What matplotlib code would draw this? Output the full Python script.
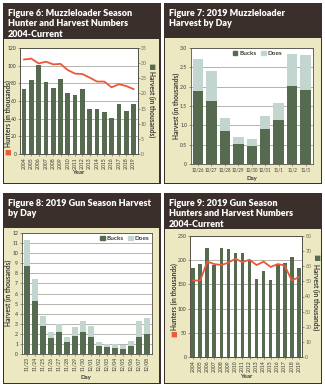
import matplotlib
matplotlib.use("Agg")
import matplotlib.pyplot as plt
from matplotlib.patches import Rectangle, Patch

# ---------------- data ----------------
ml_years = [str(y) for y in range(2004, 2020)]
ml_hunters = [107, 108, 102.5, 104.5, 101.5, 102, 95, 91, 90.5, 86.5, 82, 82, 75.5, 79, 77, 73.5]
ml_harvest = [21.4, 24.3, 29.5, 23.9, 21.7, 24.7, 20.0, 19.6, 21.6, 14.9, 14.9, 14.0, 12.0, 16.5, 14.2, 16.4]

ml_days = ["10/26", "10/27", "10/28", "10/29", "10/30", "10/31", "11/1", "11/2", "11/3"]
ml_bucks = [1.90, 1.62, 0.85, 0.52, 0.47, 0.91, 1.15, 2.03, 1.91]
ml_does = [0.82, 0.78, 0.34, 0.19, 0.18, 0.32, 0.43, 0.82, 0.92]

gun_days = ["11/23", "11/24", "11/25", "11/26", "11/27", "11/28", "11/29", "11/30",
            "12/01", "12/02", "12/03", "12/04", "12/05", "12/06", "12/07", "12/08"]
gun_bucks = [8.7, 5.25, 2.75, 1.6, 2.18, 1.15, 1.75, 2.15, 1.68, 0.78, 0.65, 0.6, 0.46, 0.75, 1.72, 1.97]
gun_does = [2.57, 2.22, 1.0, 0.62, 0.76, 0.57, 0.89, 1.16, 1.06, 0.41, 0.34, 0.39, 0.4, 0.51, 1.59, 1.6]

gun_years = [str(y) for y in range(2004, 2020)]
gun_hunters = [158, 158, 197, 192, 190, 195, 203, 196, 201, 190, 197, 186, 192, 189, 158, 165]
gun_harvest = [58.8, 61.7, 72.0, 60.6, 72.0, 71.6, 68.7, 68.5, 63.2, 51.3, 56.6, 50.8, 61.0, 62.3, 65.9, 58.8]

# ---------------- style ----------------
W, H = 325, 387
HEAD = "#3b2f2b"
BEIGE = "#ebe8c2"
GREEN = "#566a50"
DOE = "#c3d5cf"
RED = "#e85a3a"
GRID = "#a8a8a0"
TXT = "#3a3a36"
TICK = 3.7
LAB = 4.3
SIDE = 4.8

plt.rcParams["font.family"] = ["Lato", "DejaVu Sans"]

fig = plt.figure(figsize=(W / 100, H / 100), dpi=100)
fig.patch.set_facecolor("white")


def rect(x0, y0, x1, y1):
    return [x0 / W, 1 - y1 / H, (x1 - x0) / W, (y1 - y0) / H]


def fx(x):
    return x / W


def fy(y):
    return 1 - y / H


def panel(x0, x1, y0, yh, y1, lines):
    fig.add_artist(Rectangle((fx(x0), fy(y1)), (x1 - x0) / W, (y1 - y0) / H,
                             transform=fig.transFigure, facecolor=HEAD, edgecolor="none", zorder=0))
    fig.add_artist(Rectangle((fx(x0 + 1.2), fy(y1 - 1.2)), (x1 - x0 - 2.4) / W, (y1 - yh - 1.2) / H,
                             transform=fig.transFigure, facecolor=BEIGE, edgecolor="none", zorder=0))
    for i, s in enumerate(lines):
        fig.text(fx(x0 + 5), fy(y0 + 10.0 + 10.6 * i), s, color="white", fontsize=6.5,
                 fontweight="heavy", va="center", ha="left")


def style_axis(ax):
    ax.set_facecolor("white")
    for sp in ax.spines.values():
        sp.set_color("#55524a")
        sp.set_linewidth(0.6)
    ax.tick_params(labelsize=TICK, length=1.2, width=0.4, colors="#55524a", labelcolor=TXT, pad=1.2)
    ax.yaxis.grid(True, color=GRID, linewidth=0.6)
    ax.set_axisbelow(True)


def square_label(x, ytext, ysq, text, sqcolor, rot):
    fig.text(fx(x), fy(ytext), text, rotation=rot, fontsize=SIDE, fontweight="bold",
             color=TXT, ha="center", va="center")
    fig.text(fx(x), fy(ysq), "\u25A0", rotation=rot, fontsize=5.0, color=sqcolor,
             ha="center", va="center", family="DejaVu Sans")


# ---------------- panels ----------------
panel(3, 160.5, 3, 39, 184, ["Figure 6: Muzzleloader Season", "Hunter and Harvest Numbers", "2004-Current"])
panel(164, 322, 3, 38, 184, ["Figure 7: 2019 Muzzleloader", "Harvest by Day"])
panel(3, 160.5, 193, 228, 384, ["Figure 8: 2019 Gun Season Harvest", "by Day"])
panel(164, 322, 193, 229, 384, ["Figure 9: 2019 Gun Season", "Hunters and Harvest Numbers", "2004-Current"])


def hunters_harvest(box, years, hunters, harvest, hmax, hstep, vmax, vstep, width, xpad):
    base = fig.add_axes(box)
    style_axis(base)
    base.set_ylim(0, hmax)
    base.set_yticks(range(0, hmax + 1, hstep))
    x = list(range(len(years)))
    base.set_xlim(-xpad, len(years) - 1 + xpad)
    base.set_xticks(x)
    base.set_xticklabels(years, rotation=90)
    bars = base.twinx()
    bars.set_ylim(0, vmax)
    bars.set_yticks(range(0, vmax + 1, vstep))
    bars.bar(x, harvest, width=width, color=GREEN, zorder=2)
    bars.tick_params(labelsize=TICK, length=1.2, width=0.4, colors="#55524a", labelcolor="#6a6760", pad=1.2)
    for sp in bars.spines.values():
        sp.set_color("#55524a")
        sp.set_linewidth(0.6)
    line = fig.add_axes(box, sharex=base, sharey=base)
    line.plot(x, hunters, color=RED, linewidth=1.3, solid_joinstyle="round")
    line.patch.set_visible(False)
    line.axis("off")
    return base


# Figure 6
ax6 = hunters_harvest(rect(20, 48, 137.5, 154), ml_years, ml_hunters, ml_harvest,
                      120, 20, 35, 5, 0.64, 0.55)
fig.text(fx(78), fy(172.5), "Year", fontsize=LAB, fontweight="bold", color=TXT, ha="center", va="center")
square_label(8.5, 114, 151.5, "Hunters (in thousands)", RED, 90)
square_label(151.5, 104, 66, "Harvest (in thousands)", GREEN, 270)

# Figure 9
ax9 = hunters_harvest(rect(190, 236, 302, 357), gun_years, gun_hunters, gun_harvest,
                      250, 50, 80, 10, 0.52, 0.45)
fig.text(fx(246), fy(377), "Year", fontsize=LAB, fontweight="bold", color=TXT, ha="center", va="center")
square_label(174.5, 297, 334, "Hunters (in thousands)", RED, 90)
square_label(316, 297, 257, "Harvest (in thousands)", GREEN, 270)


def stacked(box, days, bucks, does, ymax, width, xpad, rot, anchor, xtick_size):
    ax = fig.add_axes(box)
    style_axis(ax)
    x = list(range(len(days)))
    ax.bar(x, bucks, width=width, color=GREEN, zorder=2)
    ax.bar(x, does, bottom=bucks, width=width, color=DOE, zorder=2)
    ax.set_xlim(-xpad, len(days) - 1 + xpad)
    ax.set_xticks(x)
    ax.set_xticklabels(days, rotation=rot, fontsize=xtick_size)
    ax.set_ylim(0, ymax)
    handles = [Patch(color=GREEN, label="Bucks"), Patch(color=DOE, label="Does")]
    leg = ax.legend(handles=handles, ncol=2, frameon=False, fontsize=4.6, loc="upper right",
                    bbox_to_anchor=anchor, handlelength=0.7, handleheight=0.7, handletextpad=0.25,
                    columnspacing=0.8, borderaxespad=0.25, borderpad=0.2)
    for t in leg.get_texts():
        t.set_fontweight("bold")
        t.set_color(TXT)
    return ax


# Figure 7
ax7 = stacked(rect(190.5, 48, 313, 164), ml_days, ml_bucks, ml_does, 3.0, 0.78, 0.55, 0,
              (0.77, 1.0), 3.25)
ax7.set_yticks([0, 0.5, 1.0, 1.5, 2.0, 2.5, 3.0])
ax7.set_yticklabels(["0", "0.5", "1.0", "1.5", "2.0", "2.5", "3.0"])
fig.text(fx(252), fy(178.5), "Day", fontsize=LAB, fontweight="bold", color=TXT, ha="center", va="center")
fig.text(fx(176.5), fy(106), "Harvest (in thousands)", rotation=90, fontsize=SIDE, fontweight="bold",
         color=TXT, ha="center", va="center")

# Figure 8
ax8 = stacked(rect(21.5, 233, 152, 354), gun_days, gun_bucks, gun_does, 12, 0.8, 0.65, 90,
              (1.0, 1.0), TICK)
ax8.set_yticks(range(0, 13))
fig.text(fx(86), fy(377.5), "Day", fontsize=LAB, fontweight="bold", color=TXT, ha="center", va="center")
fig.text(fx(8.5), fy(293), "Harvest (in thousands)", rotation=90, fontsize=SIDE, fontweight="bold",
         color=TXT, ha="center", va="center")

fig.savefig("out.png", dpi=100, facecolor="white")
